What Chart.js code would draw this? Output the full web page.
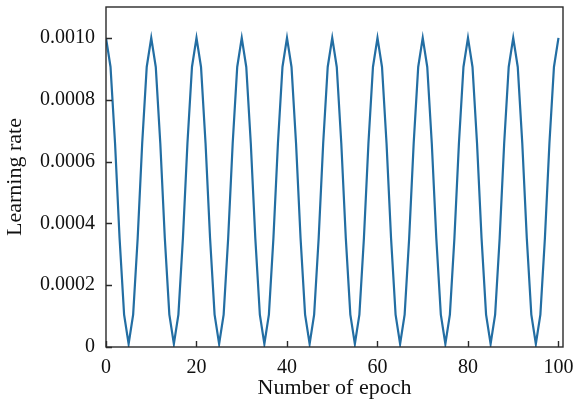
<!DOCTYPE html>
<html>
<head>
<meta charset="utf-8">
<script src="https://cdn.jsdelivr.net/npm/chart.js@4/dist/chart.umd.min.js"></script>
<style>
html,body{margin:0;padding:0;background:#fff;}
#wrap{width:575px;height:401px;position:relative;}
</style>
</head>
<body>
<div id="wrap"><canvas id="c" width="575" height="401"></canvas></div>
<script>
// Epochs 0..100
const epochs = [];
for (let i = 0; i <= 100; i++) epochs.push(i);

// Learning rate values (one per epoch)
const learningRate = [
  0.001, 0.000906, 0.000659, 0.000352, 0.000105, 0.00001, 0.000105, 0.000352, 0.000659, 0.000906,
  0.001, 0.000906, 0.000659, 0.000352, 0.000105, 0.00001, 0.000105, 0.000352, 0.000659, 0.000906,
  0.001, 0.000906, 0.000659, 0.000352, 0.000105, 0.00001, 0.000105, 0.000352, 0.000659, 0.000906,
  0.001, 0.000906, 0.000659, 0.000352, 0.000105, 0.00001, 0.000105, 0.000352, 0.000659, 0.000906,
  0.001, 0.000906, 0.000659, 0.000352, 0.000105, 0.00001, 0.000105, 0.000352, 0.000659, 0.000906,
  0.001, 0.000906, 0.000659, 0.000352, 0.000105, 0.00001, 0.000105, 0.000352, 0.000659, 0.000906,
  0.001, 0.000906, 0.000659, 0.000352, 0.000105, 0.00001, 0.000105, 0.000352, 0.000659, 0.000906,
  0.001, 0.000906, 0.000659, 0.000352, 0.000105, 0.00001, 0.000105, 0.000352, 0.000659, 0.000906,
  0.001, 0.000906, 0.000659, 0.000352, 0.000105, 0.00001, 0.000105, 0.000352, 0.000659, 0.000906,
  0.001, 0.000906, 0.000659, 0.000352, 0.000105, 0.00001, 0.000105, 0.000352, 0.000659, 0.000906,
  0.001
];

const xTicks = [0, 20, 40, 60, 80, 100];
const yTicks = [0, 0.0002, 0.0004, 0.0006, 0.0008, 0.0010];
const xTitle = 'Number of epoch';
const yTitle = 'Learning rate';

const FONT = "'Liberation Serif', 'Times New Roman', serif";

const points = epochs.map((e, i) => ({x: e, y: learningRate[i]}));

const framePlugin = {
  id: 'frame',
  afterDatasetsDraw(chart) {
    const {ctx, chartArea: a, scales} = chart;
    ctx.save();
    ctx.strokeStyle = '#2a2a2a';
    ctx.lineWidth = 1.4;
    ctx.strokeRect(a.left, a.top, a.right - a.left, a.bottom - a.top);
    ctx.beginPath();
    const L = 6;
    xTicks.forEach(v => {
      const px = Math.round(scales.x.getPixelForValue(v)) + 0.5;
      ctx.moveTo(px, a.bottom);
      ctx.lineTo(px, a.bottom - L);
    });
    yTicks.forEach(v => {
      const py = Math.round(scales.y.getPixelForValue(v)) + 0.5;
      ctx.moveTo(a.left, py);
      ctx.lineTo(a.left + L, py);
    });
    ctx.stroke();
    ctx.restore();
  }
};

new Chart(document.getElementById('c'), {
  type: 'line',
  data: {
    datasets: [{
      data: points,
      borderColor: '#236ea3',
      borderWidth: 2.2,
      pointRadius: 0,
      tension: 0,
      fill: false
    }]
  },
  options: {
    responsive: false,
    animation: false,
    layout: {padding: {left: 0, right: 12, top: 7, bottom: 0}},
    plugins: {legend: {display: false}, tooltip: {enabled: false}},
    scales: {
      x: {
        type: 'linear',
        min: 0,
        max: 101,
        afterBuildTicks(s) { s.ticks = xTicks.map(v => ({value: v})); },
        afterFit(s) { s.height = 54; s.paddingLeft = 0; s.paddingRight = 0; },
        grid: {display: false, drawTicks: false},
        border: {display: false},
        ticks: {
          padding: 9,
          color: '#111',
          font: {family: FONT, size: 20},
          maxRotation: 0,
          callback: v => String(v)
        },
        title: {display: true, text: xTitle, color: '#111', font: {family: FONT, size: 22}, padding: {top: -3, bottom: 0}}
      },
      y: {
        type: 'linear',
        min: 0,
        max: 0.0011,
        afterBuildTicks(s) { s.ticks = yTicks.map(v => ({value: v})); },
        afterFit(s) { s.width = 106; s.paddingTop = 0; s.paddingBottom = 0; },
        grid: {display: false, drawTicks: false},
        border: {display: false},
        ticks: {
          padding: 11,
          color: '#111',
          font: {family: FONT, size: 20},
          callback: v => (v === 0 ? '0' : v.toFixed(4))
        },
        title: {display: true, text: yTitle, color: '#111', font: {family: FONT, size: 22}, padding: {top: 2, bottom: 0}}
      }
    }
  },
  plugins: [framePlugin]
});
</script>
</body>
</html>
